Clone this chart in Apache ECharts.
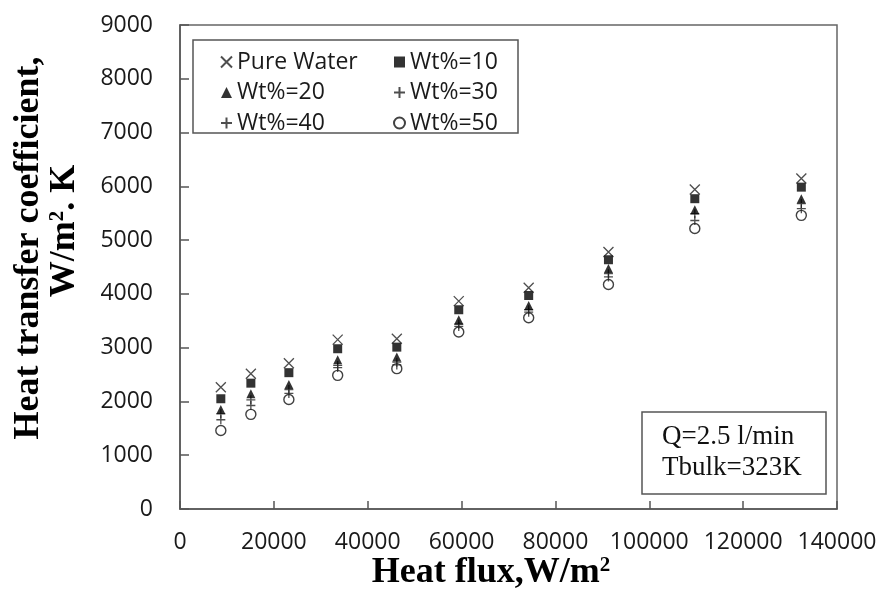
<!DOCTYPE html>
<html>
<head>
<meta charset="utf-8">
<script src="https://cdn.jsdelivr.net/npm/echarts@6/dist/echarts.min.js"></script>
<style>
html,body{margin:0;padding:0;background:#fff;}
#chart{width:883px;height:595px;}
</style>
</head>
<body>
<div id="chart"></div>
<script>
// ---- data ----
const heatFlux = [8700, 15100, 23200, 33600, 46200, 59400, 74300, 91300, 109700, 132400];
const pureWater = [2265, 2515, 2710, 3150, 3165, 3865, 4115, 4780, 5940, 6145];
const wt10 = [2050, 2340, 2535, 2980, 3010, 3705, 3970, 4635, 5770, 5985];
const wt20 = [1850, 2145, 2315, 2775, 2825, 3520, 3785, 4470, 5565, 5770];
const wt30 = [1770, 2030, 2220, 2670, 2730, 3435, 3705, 4375, 5490, 5680];
const wt40 = [1660, 1925, 2150, 2630, 2680, 3395, 3660, 4315, 5365, 5585];
const wt50 = [1460, 1760, 2035, 2485, 2610, 3290, 3555, 4175, 5215, 5460];
const seriesNames = ['Pure Water', 'Wt%=10', 'Wt%=20', 'Wt%=30', 'Wt%=40', 'Wt%=50'];
const xTicks = [0, 20000, 40000, 60000, 80000, 100000, 120000, 140000];
const yTicks = [0, 1000, 2000, 3000, 4000, 5000, 6000, 7000, 8000, 9000];
const yTitle1 = 'Heat transfer coefficient,';
const xTitle = 'Heat flux,W/m';
const note = ['Q=2.5 l/min', 'Tbulk=323K'];

const pair = v => v.map((y, i) => [heatFlux[i], y]);

const crossPath = 'path://M0,0L10,10M10,0L0,10';
const plusPath = 'path://M5,0L5,10M0,5L10,5';

const lineStyle = { color: 'rgba(0,0,0,0)', borderColor: '#222', borderWidth: 1.3 };

const chart = echarts.init(document.getElementById('chart'), null, { renderer: 'canvas' });

const labelFont = { fontFamily: 'Open Sans', fontSize: 23, color: '#1a1a1a' };
const plain = v => String(v);

const option = {
  animation: false,
  backgroundColor: '#fff',
  grid: { left: 180, right: 46, top: 25, bottom: 86, show: true, borderColor: '#666', borderWidth: 1.5 },
  xAxis: {
    type: 'value', min: xTicks[0], max: xTicks[xTicks.length - 1], interval: 20000,
    axisLine: { show: true, lineStyle: { color: '#555', width: 1.5 } },
    axisTick: { show: true, inside: true, length: 8, lineStyle: { color: '#555', width: 1.5 } },
    axisLabel: Object.assign({ margin: 22, formatter: plain }, labelFont),
    splitLine: { show: false }
  },
  yAxis: {
    type: 'value', min: yTicks[0], max: yTicks[yTicks.length - 1], interval: 1000,
    axisLine: { show: true, lineStyle: { color: '#555', width: 1.5 } },
    axisTick: { show: true, inside: true, length: 9, lineStyle: { color: '#555', width: 1.5 } },
    axisLabel: Object.assign({ margin: 27, formatter: plain }, labelFont),
    splitLine: { show: false }
  },
  legend: [
    {
      data: [seriesNames[0], seriesNames[2], seriesNames[4]],
      orient: 'vertical', left: 215, top: 45, itemWidth: 11, itemHeight: 11, itemGap: 6.5,
      itemTextGap: 11,
      textStyle: { fontFamily: 'Open Sans', fontSize: 23, color: '#1a1a1a', lineHeight: 24 }
    },
    {
      data: [seriesNames[1], seriesNames[3], seriesNames[5]],
      orient: 'vertical', left: 388, top: 45, itemWidth: 11, itemHeight: 11, itemGap: 6.5,
      itemTextGap: 13,
      textStyle: { fontFamily: 'Open Sans', fontSize: 23, color: '#1a1a1a', lineHeight: 24 }
    }
  ],
  series: [
    { name: seriesNames[5], type: 'scatter', data: pair(wt50), symbol: 'circle', symbolSize: 10,
      itemStyle: { color: '#fff', borderColor: '#111', borderWidth: 1.4 } },
    { name: seriesNames[4], type: 'scatter', data: pair(wt40), symbol: plusPath, symbolSize: 9,
      itemStyle: lineStyle },
    { name: seriesNames[3], type: 'scatter', data: pair(wt30), symbol: plusPath, symbolSize: 9,
      itemStyle: lineStyle },
    { name: seriesNames[2], type: 'scatter', data: pair(wt20), symbol: 'triangle', symbolSize: 9,
      itemStyle: { color: '#000' } },
    { name: seriesNames[1], type: 'scatter', data: pair(wt10), symbol: 'rect', symbolSize: 9,
      itemStyle: { color: '#000' } },
    { name: seriesNames[0], type: 'scatter', data: pair(pureWater), symbol: crossPath, symbolSize: [10, 10],
      itemStyle: lineStyle }
  ],
  graphic: [
    { type: 'rect', shape: { x: 193, y: 40, width: 325, height: 93 },
      style: { fill: 'none', stroke: '#555', lineWidth: 1.5 }, z: 10 },
    { type: 'rect', shape: { x: 642, y: 412, width: 184, height: 82 },
      style: { fill: '#fff', stroke: '#555', lineWidth: 1.5 }, z: 10 },
    { type: 'text', x: 662, y: 437, z: 11,
      style: { text: note[0], font: '27px "Liberation Serif"', fill: '#111', textAlign: 'left', textVerticalAlign: 'middle' } },
    { type: 'text', x: 662, y: 468, z: 11,
      style: { text: note[1], font: '27px "Liberation Serif"', fill: '#111', textAlign: 'left', textVerticalAlign: 'middle' } },
    { type: 'text', x: 491, y: 573, z: 11,
      style: {
        text: '{b|' + xTitle + '}{s|2}',
        textAlign: 'center', textVerticalAlign: 'middle',
        rich: {
          b: { fontFamily: 'Liberation Serif', fontWeight: 'bold', fontSize: 36, fill: '#000', lineHeight: 36 },
          s: { fontFamily: 'Liberation Serif', fontWeight: 'bold', fontSize: 21, fill: '#000', lineHeight: 36, verticalAlign: 'top' }
        }
      } },
    { type: 'text', x: 29, y: 248, rotation: Math.PI / 2, z: 11,
      style: { text: yTitle1, font: 'bold 36px "Liberation Serif"', fill: '#000', textAlign: 'center', textVerticalAlign: 'middle' } },
    { type: 'text', x: 65, y: 231, rotation: Math.PI / 2, z: 11,
      style: {
        text: '{b|W/m}{s|2}{b|. K}',
        textAlign: 'center', textVerticalAlign: 'middle',
        rich: {
          b: { fontFamily: 'Liberation Serif', fontWeight: 'bold', fontSize: 36, fill: '#000', lineHeight: 36 },
          s: { fontFamily: 'Liberation Serif', fontWeight: 'bold', fontSize: 21, fill: '#000', lineHeight: 36, verticalAlign: 'top' }
        }
      } }
  ]
};
chart.setOption(option);
</script>
</body>
</html>
